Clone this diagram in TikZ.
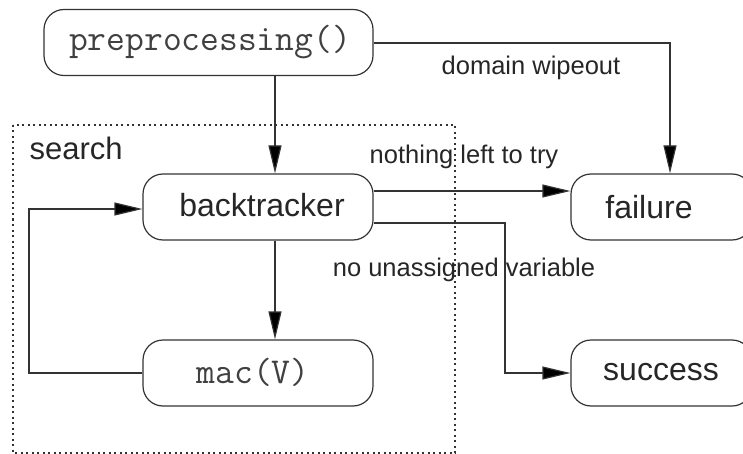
\documentclass[tikz,border=0pt]{standalone}
\usepackage{fontspec}
\setmainfont{Liberation Sans}
\setsansfont{Liberation Sans}
\usetikzlibrary{arrows.meta}

\begin{document}
\begin{tikzpicture}[x=1pt,y=-1pt,
  line width=1.2pt,
  stepbox/.style={draw=black!80, rounded corners=20pt, minimum height=66pt, inner sep=0pt},
  boxtext/.style={font=\fontsize{32}{38}\selectfont, text=black!85, inner sep=0pt},
  codetext/.style={font=\ttfamily\fontsize{36.5}{40}\selectfont, text=black!75, inner sep=0pt},
  edgelabel/.style={font=\fontsize{25.5}{30}\selectfont, text=black!85, inner sep=0pt},
  arr/.style={draw=black!80, -{Triangle[length=28pt,width=13pt,fill=black]}}
]
\useasboundingbox (0,0) rectangle (743,454);
\begin{scope}
\clip (0,0) rectangle (743,454);

% dotted frame of the search phase
\draw[draw=black!80, dash pattern=on 2pt off 3.5pt, line width=1.1pt] (13,125) rectangle (455,453);
\node[edgelabel, font=\fontsize{31}{36}\selectfont, anchor=west] (searchlbl) at (29,148) {search};

% boxes
\node[stepbox, minimum width=329pt] (pre) at (208.5,42.5) {};
\node[stepbox, minimum width=230pt] (bt) at (258,207) {};
\node[stepbox, minimum width=230pt] (mac) at (258,373) {};
\node[stepbox, minimum width=181pt] (fail) at (661.5,207) {};
\node[stepbox, minimum width=181pt] (succ) at (661.5,373) {};

% box texts
\node[codetext] (pretext) at (210,42) {preprocessing()};
\node[boxtext] (bttext) at (262,205) {backtracker};
\node[codetext] (mactext) at (253,372) {mac(V)};
\node[boxtext] (failtext) at (649,207) {failure};
\node[boxtext] (succtext) at (661,372) {success};

% helper coordinates for connector positions
\coordinate (xdown) at (275,0);
\coordinate (xfail) at (670,43);
\coordinate (yfail) at (0,191);
\coordinate (ysucc) at (0,223);
\coordinate (xsucc) at (505,0);
\coordinate (xloop) at (29,0);
\coordinate (yloop) at (0,209);

% connectors
\draw[arr] (pre.south -| xdown) -- (bt.north -| xdown);
\draw[arr] (pre.east |- xfail) -- (xfail) -- (fail.north -| xfail);
\draw[arr] (bt.east |- yfail) -- (fail.west |- yfail);
\draw[arr] (bt.east |- ysucc) -- (xsucc |- ysucc) -- (xsucc |- succ.west) -- (succ.west);
\draw[arr] (bt.south -| xdown) -- (mac.north -| xdown);
\draw[arr] (mac.west) -- (xloop |- mac.west) -- (xloop |- yloop) -- (bt.west |- yloop);

% connector labels
\node[edgelabel] (lblwipe) at (531,68) {domain wipeout};
\node[edgelabel] (lblnothing) at (464,157) {nothing left to try};
\node[edgelabel] (lblnone) at (464,270) {no unassigned variable};
\end{scope}
\end{tikzpicture}
\end{document}
